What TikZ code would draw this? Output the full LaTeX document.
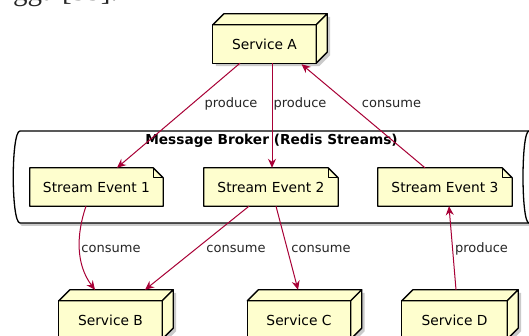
\documentclass[tikz,border=0pt]{standalone}
\usepackage{fontspec}
\newfontfamily\dvs{DejaVu Sans}
\newfontfamily\lserif{Liberation Serif}
\usetikzlibrary{arrows.meta,calc}
\pgfdeclarelayer{shadowlayer}
\pgfdeclarelayer{bg}
\pgfsetlayers{shadowlayer,bg,main}
\definecolor{nodefill}{HTML}{FEFECE}
\definecolor{edgecol}{HTML}{A80036}
\definecolor{shadowcol}{HTML}{A8A8A8}

\newcommand\MkCube[1]{%
 \begin{pgfonlayer}{shadowlayer}
  \fill[shade] ([shift={(3pt,-3pt)}]#1.south west) -- ([shift={(3pt,-3pt)}]#1.north west)
    -- ([shift={(14pt,8pt)}]#1.north west) -- ([shift={(14pt,8pt)}]#1.north east)
    -- ([shift={(14pt,8pt)}]#1.south east) -- ([shift={(3pt,-3pt)}]#1.south east) -- cycle;
 \end{pgfonlayer}
 \begin{pgfonlayer}{bg}
  \draw[face] (#1.south west) rectangle (#1.north east);
  \draw[face] (#1.north west) -- ([shift={(11pt,11pt)}]#1.north west)
    -- ([shift={(11pt,11pt)}]#1.north east) -- (#1.north east) -- cycle;
  \draw[face] (#1.north east) -- ([shift={(11pt,11pt)}]#1.north east)
    -- ([shift={(11pt,11pt)}]#1.south east) -- (#1.south east) -- cycle;
 \end{pgfonlayer}}

\newcommand\MkNote[1]{%
 \begin{pgfonlayer}{shadowlayer}
  \fill[shade] ([shift={(3pt,-3pt)}]#1.south west) rectangle ([shift={(3pt,-3pt)}]#1.north east);
 \end{pgfonlayer}
 \begin{pgfonlayer}{bg}
  \draw[face] (#1.south west) -- (#1.north west) -- ([xshift=-10pt]#1.north east)
    -- ([yshift=-10pt]#1.north east) -- (#1.south east) -- cycle;
  \draw[face, fill=none] ([xshift=-10pt]#1.north east) -- ([xshift=-10pt,yshift=-10pt]#1.north east)
    -- ([yshift=-10pt]#1.north east);
 \end{pgfonlayer}}

\begin{document}
\begin{tikzpicture}[x=1pt,y=-1pt,
  nodetext/.style={font=\dvs\fontsize{13.8pt}{16pt}\selectfont, inner sep=0pt},
  svc/.style={nodetext, minimum width=103pt, minimum height=38pt},
  evt/.style={nodetext, minimum width=134pt, minimum height=38pt},
  lbl/.style={font=\dvs\fontsize{13pt}{15pt}\selectfont, inner sep=0pt, text=black!85},
  face/.style={draw=black, fill=nodefill, line width=1.3pt, line join=round},
  shade/.style={fill=shadowcol, draw=none, opacity=0.6},
  flow/.style={draw=edgecol, line width=1pt, -{Stealth[length=9pt,width=8pt,inset=3pt]}}
]
\useasboundingbox (0,0) rectangle (529,336);
\begin{pgfonlayer}{shadowlayer}
  \fill[white] (0,0) rectangle (529,336);
\end{pgfonlayer}

% cropped text fragment at the top left
\begin{scope}
  \clip (0,0) rectangle (529,336);
  \node[font=\lserif\fontsize{29pt}{32pt}\selectfont, anchor=base east, inner sep=0pt, text=black!85] (frag) at (118,1) {ngga [35].};
\end{scope}

% message broker (queue shape)
\begin{pgfonlayer}{shadowlayer}
  \fill[shade] (22,134) .. controls (14,134) and (14,226) .. (22,226) -- (540,226) -- (540,134) -- cycle;
\end{pgfonlayer}
\begin{pgfonlayer}{bg}
  \draw[black, line width=1.3pt, fill=white] (540,131) -- (20,131) .. controls (11,131) and (11,223) .. (20,223) -- (540,223);
  \draw[black, line width=1.3pt] (529,131) .. controls (521,131) and (521,223) .. (529,223);
\end{pgfonlayer}
\node[font=\dvs\bfseries\fontsize{13.7pt}{16pt}\selectfont, inner sep=0pt] (title) at (271.5,141) {Message Broker (Redis Streams)};

% services
\node[svc] (A) at (264.5,44) {Service A};
\node[svc] (B) at (110.5,320) {Service B};
\node[svc] (C) at (299,320) {Service C};
\node[svc, minimum width=105pt] (D) at (454.5,320) {Service D};
\MkCube{A}\MkCube{B}\MkCube{C}\MkCube{D}

% stream events
\node[evt, minimum width=133pt] (s1) at (96.5,187) {Stream Event 1};
\node[evt] (s2) at (271,187) {Stream Event 2};
\node[evt] (s3) at (445,187) {Stream Event 3};
\MkNote{s1}\MkNote{s2}\MkNote{s3}

% connectors
\draw[flow] ([xshift=-24.5pt]A.south) -- ([xshift=20.5pt]s1.north);
\draw[flow] ([xshift=7.5pt]A.south) -- ([xshift=1pt]s2.north);
\draw[flow] ([xshift=-20pt]s3.north) -- ([xshift=37pt,yshift=-1pt]A.south);
\draw[flow] ([xshift=-10.5pt]s1.south) .. controls +(-10,29) and +(-19,-25) .. ([xshift=-15.5pt,yshift=11pt]B.north);
\draw[flow] ([xshift=-22pt]s2.south) -- ([xshift=34.5pt,yshift=11pt]B.north);
\draw[flow] ([xshift=5pt]s2.south) -- ([xshift=-1pt,yshift=11pt]C.north);
\draw[flow] ([xshift=1.5pt,yshift=11pt]D.north) -- ([xshift=4pt]s3.south);

% labels
\node[lbl] (l1) at (231,104) {produce};
\node[lbl] (l2) at (300,104) {produce};
\node[lbl] (l3) at (391.5,104) {consume};
\node[lbl] (l4) at (111,249) {consume};
\node[lbl] (l5) at (236,249) {consume};
\node[lbl] (l6) at (321,249) {consume};
\node[lbl] (l7) at (481.5,249) {produce};
\end{tikzpicture}
\end{document}
